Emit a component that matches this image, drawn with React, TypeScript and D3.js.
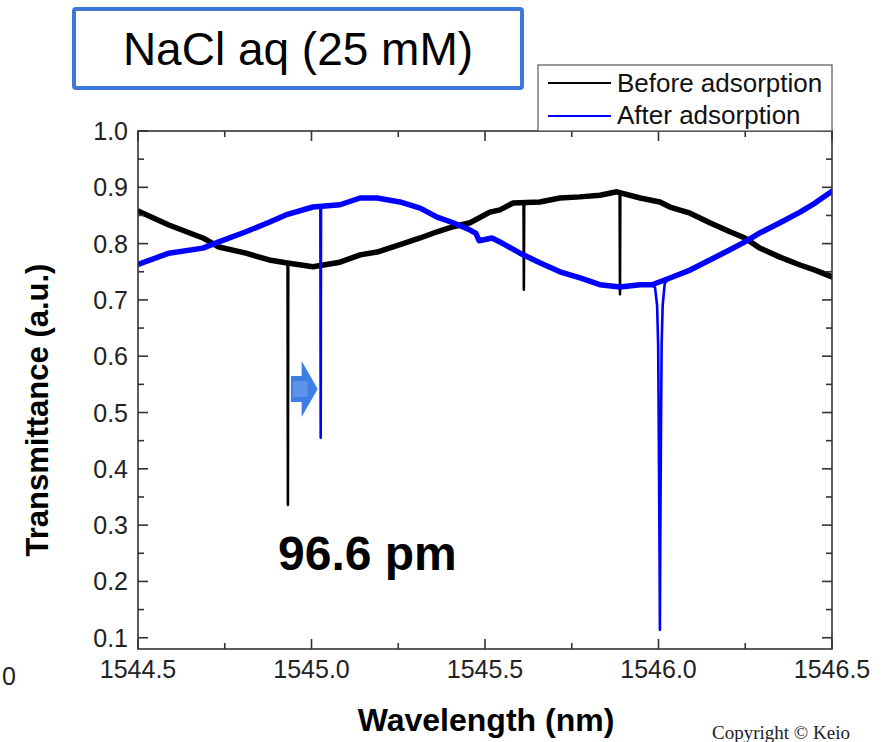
import React from "react";
import * as d3 from "d3";

// ---- data ----
const beforeWl = [1544.5, 1544.589, 1544.687, 1544.733, 1544.811, 1544.878, 1544.926, 1545.004, 1545.082, 1545.14, 1545.189, 1545.255, 1545.313, 1545.362, 1545.408, 1545.457, 1545.514, 1545.543, 1545.581, 1545.658, 1545.716, 1545.774, 1545.831, 1545.88, 1545.947, 1546.004, 1546.033, 1546.091, 1546.148, 1546.206, 1546.249, 1546.292, 1546.35, 1546.408, 1546.451, 1546.5];
const beforeT = [0.858, 0.833, 0.81, 0.794, 0.783, 0.771, 0.766, 0.759, 0.767, 0.78, 0.785, 0.798, 0.81, 0.821, 0.83, 0.837, 0.856, 0.86, 0.872, 0.874, 0.881, 0.883, 0.886, 0.892, 0.881, 0.874, 0.865, 0.854, 0.837, 0.821, 0.81, 0.792, 0.776, 0.762, 0.753, 0.741];
const beforeDipWl = [1544.931, 1544.932, 1544.933, 1545.611, 1545.612, 1545.613, 1545.888, 1545.889, 1545.89];
const beforeDipT = [0.766, 0.336, 0.765, 0.871, 0.718, 0.871, 0.891, 0.71, 0.89];

const afterWl = [1544.5, 1544.589, 1544.687, 1544.733, 1544.811, 1544.878, 1544.926, 1545.004, 1545.082, 1545.14, 1545.189, 1545.255, 1545.313, 1545.362, 1545.408, 1545.457, 1545.474, 1545.483, 1545.52, 1545.543, 1545.601, 1545.658, 1545.716, 1545.774, 1545.831, 1545.889, 1545.947, 1545.981, 1546.033, 1546.091, 1546.148, 1546.206, 1546.249, 1546.292, 1546.35, 1546.408, 1546.451, 1546.5];
const afterT = [0.763, 0.783, 0.792, 0.803, 0.821, 0.838, 0.851, 0.865, 0.869, 0.881, 0.881, 0.874, 0.863, 0.847, 0.837, 0.824, 0.818, 0.805, 0.81, 0.803, 0.783, 0.766, 0.75, 0.739, 0.727, 0.723, 0.727, 0.727, 0.739, 0.753, 0.771, 0.789, 0.803, 0.819, 0.837, 0.856, 0.872, 0.893];
const afterDipWl = [1545.0255, 1545.0265, 1545.0275, 1545.99, 1545.996, 1545.999, 1546.001, 1546.003, 1546.004, 1546.005, 1546.007, 1546.009, 1546.012, 1546.018];
const afterDipT = [0.866, 0.455, 0.866, 0.722, 0.69, 0.62, 0.45, 0.25, 0.114, 0.25, 0.45, 0.62, 0.69, 0.73];

const xMajorTicks = [1544.5, 1545.0, 1545.5, 1546.0, 1546.5];
const xMinorTicks = [1544.75, 1545.25, 1545.75, 1546.25];
const yMajorTicks = [0.1, 0.2, 0.3, 0.4, 0.5, 0.6, 0.7, 0.8, 0.9, 1.0];
const yMinorTicks = [0.15, 0.25, 0.35, 0.45, 0.55, 0.65, 0.75, 0.85, 0.95];

const seriesNames = ["Before adsorption", "After adsorption"];
const seriesColors = ["#000000", "#0000ff"];
const shiftLabel = "96.6 pm";
const titleText = "NaCl aq (25 mM)";

type P = [number, number];
const zip = (a: number[], b: number[]): P[] => a.map((v, i) => [v, b[i]] as P);

export default function App() {
  const W = 882, H = 742;
  const L = 138, R = 832, T = 131, B = 649;
  const x = d3.scaleLinear().domain([1544.5, 1546.5]).range([L, R]);
  const y = d3.scaleLinear().domain([0.08, 1.0]).range([B, T]);
  const line = d3.line<P>().x(d => x(d[0])).y(d => y(d[1]));

  const beforeBase = zip(beforeWl, beforeT);
  const afterBase = zip(afterWl, afterT);
  const beforeAll = [...beforeBase, ...zip(beforeDipWl, beforeDipT)].sort((a, b) => a[0] - b[0]);
  const afterAll = [...afterBase, ...zip(afterDipWl, afterDipT)].sort((a, b) => a[0] - b[0]);

  const axisColor = "#333";
  const font = "Liberation Sans, Arial, sans-serif";

  // arrow between the two main dips
  const ax0 = x(beforeDipWl[1]) + 3;
  const ax1 = x(afterDipWl[1]) - 3;
  const ayc = 389;
  const headBase = ax0 + (ax1 - ax0) * 0.4;
  const arrowPts = [
    [ax0, ayc - 13], [headBase, ayc - 13], [headBase, ayc - 28], [ax1, ayc],
    [headBase, ayc + 28], [headBase, ayc + 13], [ax0, ayc + 13],
  ].map(p => p.join(",")).join(" ");

  return (
    <svg width={W} height={H} style={{ position: "absolute", left: 0, top: 0, background: "#fff" }} fontFamily={font}>
      <defs>
        <clipPath id="plotclip"><rect x={L} y={T} width={R - L} height={B - T} /></clipPath>
      </defs>
      {/* series */}
      <g clipPath="url(#plotclip)" fill="none" strokeLinejoin="round" strokeLinecap="round">
        <path d={line(beforeBase) || ""} stroke={seriesColors[0]} strokeWidth={5.5} />
        <path d={line(beforeAll) || ""} stroke={seriesColors[0]} strokeWidth={2.6} />
        <path d={line(afterBase) || ""} stroke={seriesColors[1]} strokeWidth={5.5} />
        <path d={line(afterAll) || ""} stroke={seriesColors[1]} strokeWidth={2.6} />
      </g>
      {/* frame */}
      <rect x={L} y={T} width={R - L} height={B - T} fill="none" stroke={axisColor} strokeWidth={1.6} />
      {/* x ticks */}
      {xMajorTicks.map(t => (
        <g key={"xM" + t}>
          <line x1={x(t)} x2={x(t)} y1={B} y2={B - 10} stroke={axisColor} strokeWidth={1.6} />
          <line x1={x(t)} x2={x(t)} y1={T} y2={T + 10} stroke={axisColor} strokeWidth={1.6} />
          <text x={x(t)} y={B + 29} fontSize={25} textAnchor="middle" fill="#222">{t.toFixed(1)}</text>
        </g>
      ))}
      {xMinorTicks.map(t => (
        <g key={"xm" + t}>
          <line x1={x(t)} x2={x(t)} y1={B} y2={B - 6} stroke={axisColor} strokeWidth={1.6} />
          <line x1={x(t)} x2={x(t)} y1={T} y2={T + 6} stroke={axisColor} strokeWidth={1.6} />
        </g>
      ))}
      {/* y ticks */}
      {yMajorTicks.map(t => (
        <g key={"yM" + t}>
          <line x1={L} x2={L + 10} y1={y(t)} y2={y(t)} stroke={axisColor} strokeWidth={1.6} />
          <line x1={R} x2={R - 10} y1={y(t)} y2={y(t)} stroke={axisColor} strokeWidth={1.6} />
          <text x={L - 10} y={y(t) + 9} fontSize={25} textAnchor="end" fill="#222">{t.toFixed(1)}</text>
        </g>
      ))}
      {yMinorTicks.map(t => (
        <g key={"ym" + t}>
          <line x1={L} x2={L + 6} y1={y(t)} y2={y(t)} stroke={axisColor} strokeWidth={1.6} />
          <line x1={R} x2={R - 6} y1={y(t)} y2={y(t)} stroke={axisColor} strokeWidth={1.6} />
        </g>
      ))}
      {/* axis titles */}
      <text x={486} y={731} fontSize={32} fontWeight="bold" textAnchor="middle" fill="#000">Wavelength (nm)</text>
      <text transform="translate(48,410) rotate(-90)" fontSize={31} fontWeight="bold" textAnchor="middle" fill="#000">Transmittance (a.u.)</text>
      {/* legend */}
      <rect x={538} y={65} width={294} height={66} fill="#fff" stroke="#555" strokeWidth={1.2} />
      <line x1={548} x2={611} y1={83} y2={83} stroke={seriesColors[0]} strokeWidth={2} />
      <text x={617} y={92} fontSize={26} fill="#111">{seriesNames[0]}</text>
      <line x1={548} x2={611} y1={116} y2={116} stroke={seriesColors[1]} strokeWidth={2} />
      <text x={617} y={124} fontSize={26} fill="#111">{seriesNames[1]}</text>
      {/* title box */}
      <rect x={74} y={9} width={448} height={79} rx={2} fill="#fff" stroke="#3c78d8" strokeWidth={4} />
      <text x={298} y={65} fontSize={46} textAnchor="middle" fill="#000">{titleText}</text>
      {/* shift annotation */}
      <polygon points={arrowPts} fill="#3f7fe4" />
      <polygon points={[[ax0 + 2, ayc - 8], [headBase + 6, ayc - 8], [headBase + 6, ayc + 8], [ax0 + 2, ayc + 8]].map(p => p.join(",")).join(" ")} fill="#5c93ea" />
      <text x={278} y={570} fontSize={48} fontWeight="bold" fill="#000">{shiftLabel}</text>
      {/* cropped remnants */}
      <text x={2} y={685} fontSize={25} fill="#222">0</text>
      <text x={712} y={739} fontSize={19} fontFamily="Liberation Serif, Times New Roman, serif" fill="#222">Copyright © Keio</text>
    </svg>
  );
}
